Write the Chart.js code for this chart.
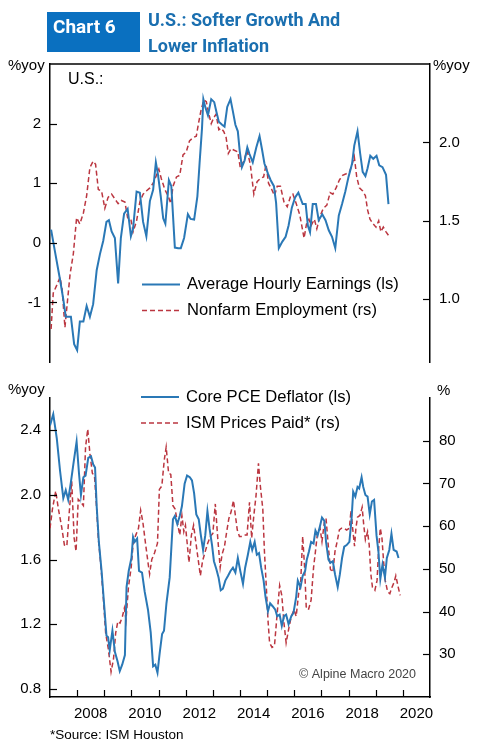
<!DOCTYPE html>
<html>
<head>
<meta charset="utf-8">
<script src="https://cdn.jsdelivr.net/npm/chart.js@4.4.0/dist/chart.umd.min.js"></script>
<style>
body{margin:0;background:#fff;font-family:"Liberation Sans",Arial,sans-serif;}
#wrap{position:relative;width:479px;height:748px;overflow:hidden;}
canvas{position:absolute;left:0;}
#c1{top:0;}
#c2{top:380px;}
#box{position:absolute;left:47px;top:12px;width:93px;height:40px;background:#0a70c0;}
#box span{position:absolute;left:6px;top:5px;color:#fff;font-family:Roboto,sans-serif;font-weight:bold;font-size:19px;line-height:20px;}
#title{position:absolute;left:148px;top:7px;color:#1a6fb0;font-family:Roboto,sans-serif;font-weight:bold;font-size:18px;line-height:26px;}
#source{position:absolute;left:50px;top:727px;font-size:13.5px;line-height:16px;color:#000;}
</style>
</head>
<body>
<div id="wrap">
  <canvas id="c1" width="479" height="380"></canvas>
  <canvas id="c2" width="479" height="368"></canvas>
  <div id="box"><span>Chart 6</span></div>
  <div id="title">U.S.: Softer Growth And<br>Lower Inflation</div>
  <div id="source">*Source: ISM Houston</div>
</div>
<script>
// ---- data (decimal years) ----
var aheYears = [2007.04,2007.18,2007.37,2007.49,2007.58,2007.67,2007.77,2007.89,2008.00,2008.10,2008.23,2008.35,2008.47,2008.59,2008.72,2008.84,2008.96,2009.08,2009.17,2009.27,2009.39,2009.51,2009.61,2009.73,2009.86,2009.98,2010.06,2010.19,2010.31,2010.43,2010.55,2010.68,2010.80,2010.90,2010.98,2011.08,2011.17,2011.25,2011.38,2011.47,2011.60,2011.72,2011.82,2011.94,2012.08,2012.18,2012.31,2012.43,2012.51,2012.60,2012.65,2012.72,2012.82,2012.94,2013.05,2013.13,2013.22,2013.34,2013.43,2013.53,2013.65,2013.74,2013.83,2013.92,2013.99,2014.07,2014.17,2014.27,2014.35,2014.47,2014.60,2014.72,2014.81,2014.90,2015.03,2015.13,2015.25,2015.33,2015.43,2015.56,2015.68,2015.79,2015.91,2016.03,2016.15,2016.31,2016.42,2016.50,2016.58,2016.68,2016.80,2016.90,2017.03,2017.15,2017.27,2017.39,2017.51,2017.64,2017.76,2017.88,2018.00,2018.13,2018.21,2018.33,2018.43,2018.52,2018.62,2018.70,2018.80,2018.91,2019.03,2019.13,2019.25,2019.38,2019.47];
var aheVals = [0.22,-0.14,-0.62,-0.95,-1.24,-1.24,-1.24,-1.70,-1.80,-1.32,-1.32,-1.06,-1.24,-1.03,-0.46,-0.19,0.03,0.35,0.38,0.19,0.08,-0.68,0.08,0.49,0.57,0.11,0.24,0.86,0.84,0.35,0.11,0.70,0.89,1.35,1.14,0.78,0.41,0.32,1.05,0.95,-0.08,-0.09,-0.09,0.08,0.48,0.40,0.39,0.78,1.33,1.92,2.41,2.28,2.14,2.41,2.36,2.20,2.03,1.98,1.95,2.28,2.41,2.20,1.98,1.87,1.54,1.27,1.38,1.60,1.49,1.35,1.60,1.79,1.57,1.33,1.16,1.05,0.95,0.67,-0.09,0.02,0.10,0.29,0.59,0.76,0.84,0.65,0.65,0.29,0.18,0.65,0.65,0.38,0.48,0.38,0.21,0.10,-0.09,0.46,0.65,0.86,1.11,1.33,1.63,1.87,1.49,1.19,1.12,1.25,1.46,1.41,1.46,1.30,1.27,1.14,0.65];

var nfpYears = [2007.04,2007.12,2007.25,2007.37,2007.45,2007.55,2007.65,2007.74,2007.86,2007.98,2008.10,2008.23,2008.35,2008.47,2008.59,2008.68,2008.78,2008.90,2009.02,2009.14,2009.27,2009.39,2009.51,2009.63,2009.76,2009.86,2009.98,2010.06,2010.19,2010.31,2010.43,2010.55,2010.68,2010.80,2010.92,2011.01,2011.10,2011.23,2011.35,2011.45,2011.53,2011.66,2011.78,2011.90,2012.02,2012.14,2012.27,2012.39,2012.48,2012.57,2012.67,2012.76,2012.84,2012.94,2013.04,2013.12,2013.22,2013.31,2013.40,2013.49,2013.57,2013.67,2013.79,2013.92,2014.01,2014.14,2014.26,2014.38,2014.51,2014.63,2014.75,2014.87,2014.96,2015.05,2015.17,2015.27,2015.37,2015.49,2015.62,2015.74,2015.87,2015.95,2016.07,2016.20,2016.36,2016.45,2016.54,2016.62,2016.74,2016.83,2016.95,2017.07,2017.20,2017.32,2017.42,2017.54,2017.66,2017.78,2017.91,2018.03,2018.13,2018.21,2018.30,2018.40,2018.52,2018.62,2018.70,2018.79,2018.91,2019.01,2019.11,2019.19,2019.28,2019.38,2019.50];
var nfpVals = [0.81,1.04,1.09,1.14,1.06,0.82,1.00,1.16,1.29,1.52,1.48,1.55,1.66,1.84,1.88,1.86,1.70,1.69,1.58,1.65,1.67,1.64,1.61,1.63,1.62,1.52,1.51,1.43,1.50,1.62,1.67,1.69,1.71,1.74,1.79,1.83,1.77,1.70,1.66,1.61,1.72,1.78,1.79,1.92,1.94,2.01,2.03,2.04,2.13,2.21,2.27,2.26,2.19,2.12,2.16,2.18,2.08,2.09,2.07,2.03,1.93,1.96,1.95,1.94,1.84,1.88,1.95,1.86,1.67,1.75,1.77,1.78,1.86,1.74,1.70,1.66,1.72,1.72,1.62,1.59,1.66,1.67,1.61,1.54,1.39,1.48,1.51,1.47,1.51,1.45,1.53,1.58,1.60,1.68,1.67,1.71,1.76,1.79,1.80,1.81,1.86,1.91,1.78,1.71,1.69,1.66,1.57,1.51,1.48,1.46,1.50,1.43,1.46,1.43,1.40];

var pceYears = [2007.00,2007.12,2007.25,2007.37,2007.49,2007.58,2007.67,2007.77,2007.86,2007.98,2008.07,2008.14,2008.23,2008.31,2008.41,2008.51,2008.59,2008.66,2008.72,2008.80,2008.90,2009.00,2009.08,2009.14,2009.20,2009.30,2009.39,2009.49,2009.57,2009.66,2009.76,2009.82,2009.90,2010.00,2010.06,2010.12,2010.21,2010.28,2010.39,2010.49,2010.61,2010.71,2010.80,2010.88,2010.96,2011.04,2011.13,2011.20,2011.29,2011.41,2011.53,2011.60,2011.69,2011.78,2011.86,2011.96,2012.05,2012.15,2012.23,2012.31,2012.39,2012.48,2012.55,2012.64,2012.72,2012.80,2012.88,2012.97,2013.04,2013.13,2013.21,2013.29,2013.37,2013.46,2013.56,2013.65,2013.74,2013.83,2013.92,2014.01,2014.11,2014.19,2014.29,2014.38,2014.45,2014.54,2014.62,2014.70,2014.78,2014.87,2014.94,2015.03,2015.11,2015.21,2015.30,2015.37,2015.46,2015.54,2015.62,2015.70,2015.79,2015.89,2015.97,2016.07,2016.13,2016.23,2016.31,2016.40,2016.46,2016.54,2016.62,2016.71,2016.78,2016.86,2016.95,2017.02,2017.11,2017.17,2017.26,2017.33,2017.42,2017.50,2017.60,2017.68,2017.76,2017.84,2017.93,2018.03,2018.11,2018.17,2018.25,2018.33,2018.39,2018.48,2018.54,2018.62,2018.70,2018.78,2018.86,2018.94,2019.03,2019.10,2019.17,2019.25,2019.34,2019.41,2019.50,2019.58,2019.66,2019.77,2019.84];
var pceVals = [2.43,2.50,2.35,2.15,1.98,2.03,1.97,2.08,2.19,2.33,2.13,2.00,2.11,2.12,2.23,2.24,2.19,2.17,1.93,1.71,1.53,1.31,1.13,1.12,1.04,1.16,1.03,0.97,0.91,0.95,1.01,1.43,1.53,1.61,1.74,1.71,1.73,1.53,1.52,1.40,1.29,1.15,0.94,0.95,0.90,1.02,1.14,1.16,1.33,1.49,1.85,1.87,1.82,1.87,1.93,2.07,2.12,2.11,2.09,2.01,1.88,1.85,1.76,1.66,1.75,1.90,1.79,1.69,1.59,1.54,1.49,1.41,1.42,1.47,1.50,1.53,1.55,1.52,1.61,1.53,1.45,1.55,1.63,1.71,1.66,1.71,1.63,1.64,1.55,1.47,1.37,1.28,1.33,1.31,1.29,1.25,1.26,1.19,1.25,1.26,1.20,1.25,1.27,1.37,1.47,1.43,1.50,1.53,1.60,1.65,1.71,1.70,1.78,1.75,1.81,1.86,1.84,1.71,1.60,1.58,1.59,1.51,1.43,1.51,1.61,1.68,1.69,1.71,1.85,2.02,1.99,2.05,2.04,2.11,2.05,2.00,1.99,1.88,1.96,1.97,1.75,1.65,1.48,1.57,1.49,1.61,1.66,1.76,1.66,1.65,1.61];

var ismYears = [2007.00,2007.09,2007.21,2007.31,2007.43,2007.53,2007.62,2007.70,2007.80,2007.89,2007.96,2008.04,2008.14,2008.23,2008.31,2008.39,2008.47,2008.56,2008.64,2008.72,2008.78,2008.88,2008.97,2009.05,2009.15,2009.25,2009.34,2009.42,2009.50,2009.58,2009.67,2009.74,2009.80,2009.89,2009.99,2010.07,2010.16,2010.26,2010.34,2010.42,2010.51,2010.61,2010.67,2010.75,2010.85,2010.96,2011.03,2011.12,2011.21,2011.28,2011.37,2011.45,2011.53,2011.61,2011.69,2011.78,2011.86,2011.93,2011.99,2012.06,2012.12,2012.21,2012.29,2012.37,2012.45,2012.54,2012.62,2012.72,2012.81,2012.91,2013.00,2013.09,2013.18,2013.27,2013.34,2013.43,2013.51,2013.59,2013.67,2013.76,2013.83,2013.90,2013.98,2014.08,2014.19,2014.26,2014.35,2014.43,2014.51,2014.59,2014.68,2014.75,2014.84,2014.90,2014.97,2015.03,2015.09,2015.18,2015.27,2015.37,2015.46,2015.54,2015.62,2015.70,2015.79,2015.89,2015.99,2016.07,2016.16,2016.23,2016.31,2016.38,2016.44,2016.52,2016.62,2016.71,2016.78,2016.86,2016.95,2017.02,2017.11,2017.17,2017.26,2017.33,2017.42,2017.50,2017.58,2017.66,2017.74,2017.84,2017.93,2018.03,2018.09,2018.15,2018.22,2018.27,2018.33,2018.42,2018.50,2018.56,2018.62,2018.70,2018.76,2018.82,2018.88,2018.97,2019.05,2019.11,2019.17,2019.23,2019.29,2019.35,2019.44,2019.52,2019.60,2019.68,2019.74,2019.83,2019.90];
var ismVals = [59.5,64.0,68.2,64.0,59.8,55.6,55.3,62.5,70.5,57.2,54.1,66.3,65.6,64.8,78.5,82.7,77.0,72.4,71.7,64.0,57.2,50.3,42.7,35.0,31.2,25.9,28.9,35.0,37.7,37.3,38.9,40.8,38.1,45.7,50.3,56.4,57.9,59.5,63.7,61.0,56.4,51.5,48.8,52.2,53.7,56.0,68.6,69.4,75.5,78.5,72.4,72.1,64.8,64.0,61.0,57.9,62.5,58.7,60.2,55.6,51.5,57.9,60.2,56.4,52.6,48.4,51.8,54.1,56.0,57.6,58.3,65.2,57.2,50.3,53.4,55.3,58.7,61.8,63.3,66.0,62.5,59.1,57.6,57.6,57.9,57.9,65.6,57.2,62.5,67.1,74.7,69.4,64.0,54.1,45.7,38.1,32.7,31.6,32.0,39.6,46.1,43.8,37.3,32.7,35.8,38.9,40.4,38.9,44.2,46.1,57.6,50.3,41.1,40.4,42.7,50.3,54.1,58.7,59.5,56.4,61.0,61.8,54.9,49.9,49.2,54.1,56.4,59.1,59.5,59.5,59.1,59.5,63.7,59.5,55.3,59.5,62.1,62.5,64.4,60.2,56.8,58.7,55.6,48.8,45.7,45.0,47.3,54.9,59.5,57.2,51.8,47.3,44.6,44.2,45.7,46.9,48.4,45.7,43.8];

// ---- ticks ----
var topLeftTicks = [-1, 0, 1, 2];
var topRightTicks = [1.0, 1.5, 2.0];
var botLeftTicks = [0.8, 1.2, 1.6, 2.0, 2.4];
var botRightTicks = [30, 40, 50, 60, 70, 80];
var yearTicks = [2008,2009,2010,2011,2012,2013,2014,2015,2016,2017,2018,2019,2020];
var yearLabels = [2008,2010,2012,2014,2016,2018,2020];

var BLUE = '#2a78b6';
var RED = '#bb3640';
var FONT = '"Liberation Sans", Arial, sans-serif';

function pts(xs, ys) {
  return xs.map(function (x, i) { return {x: x, y: ys[i]}; });
}

function yAxis(pos, min, max, tickList, fmt) {
  return {
    position: pos, min: min, max: max,
    afterFit: function (s) { s.width = pos === 'left' ? 50 : 49; },
    afterBuildTicks: function (s) { s.ticks = tickList.map(function (v) { return {value: v}; }); },
    grid: {display: false, drawTicks: false},
    border: {display: true, color: '#000', width: 1.5},
    ticks: {padding: 9, color: '#000', font: {family: FONT, size: 15}, callback: fmt}
  };
}

// inward ticks, borders, legends and loose texts
var decor = {
  id: 'decor',
  afterDraw: function (chart, args, o) {
    var ctx = chart.ctx, a = chart.chartArea;
    ctx.save();
    ctx.strokeStyle = '#000';
    ctx.lineWidth = 1.2;
    ['yL', 'yR'].forEach(function (id) {
      var s = chart.scales[id];
      s.ticks.forEach(function (t) {
        var y = Math.round(s.getPixelForValue(t.value)) + 0.5;
        ctx.beginPath();
        if (id === 'yL') { ctx.moveTo(a.left, y); ctx.lineTo(a.left + 7, y); }
        else { ctx.moveTo(a.right, y); ctx.lineTo(a.right - 7, y); }
        ctx.stroke();
      });
    });
    if (o.topBorder) {
      ctx.lineWidth = 1.5;
      ctx.beginPath(); ctx.moveTo(a.left, a.top); ctx.lineTo(a.right, a.top); ctx.stroke();
    }
    if (o.yearTicks) {
      var sx = chart.scales.x;
      o.yearTicks.forEach(function (yr) {
        var x = Math.round(sx.getPixelForValue(yr)) + 0.5;
        ctx.beginPath(); ctx.moveTo(x, a.bottom); ctx.lineTo(x, a.bottom - 7); ctx.stroke();
      });
    }
    // legend
    chart.data.datasets.forEach(function (ds, i) {
      var L = o.legend[i];
      ctx.strokeStyle = ds.borderColor;
      ctx.lineWidth = ds.borderWidth;
      ctx.setLineDash(ds.borderDash || []);
      ctx.beginPath(); ctx.moveTo(L[0], L[2]); ctx.lineTo(L[1], L[2]); ctx.stroke();
      ctx.setLineDash([]);
      ctx.fillStyle = '#000';
      ctx.font = '16.6px ' + FONT;
      ctx.textBaseline = 'middle';
      ctx.textAlign = 'left';
      ctx.fillText(ds.label, L[1] + 7, L[2]);
    });
    // texts
    o.texts.forEach(function (t) {
      ctx.fillStyle = t.color || '#000';
      ctx.font = t.size + 'px ' + FONT;
      ctx.textBaseline = 'alphabetic';
      ctx.textAlign = t.align || 'left';
      ctx.fillText(t.text, t.x, t.y);
    });
    ctx.restore();
  }
};

new Chart(document.getElementById('c1'), {
  type: 'line',
  data: {
    datasets: [
      {label: 'Average Hourly Earnings (ls)', data: pts(aheYears, aheVals), yAxisID: 'yL',
       borderColor: BLUE, borderWidth: 2, pointRadius: 0, tension: 0},
      {label: 'Nonfarm Employment (rs)', data: pts(nfpYears, nfpVals), yAxisID: 'yR',
       borderColor: RED, borderWidth: 1.5, borderDash: [5, 3], pointRadius: 0, tension: 0}
    ]
  },
  options: {
    responsive: false, animation: false,
    layout: {padding: {top: 64, bottom: 10, left: 0, right: 0}},
    plugins: {
      legend: {display: false}, tooltip: {enabled: false},
      decor: {
        topBorder: true,
        legend: [[142, 180, 284.5], [142, 180, 310.5]],
        texts: [
          {text: '%yoy', x: 8, y: 70, size: 15},
          {text: '%yoy', x: 433, y: 70, size: 15},
          {text: 'U.S.:', x: 68, y: 84, size: 16}
        ]
      }
    },
    scales: {
      x: {type: 'linear', min: 2007, max: 2021, display: false},
      yL: yAxis('left', -2, 3, topLeftTicks, function (v) { return v; }),
      yR: yAxis('right', 0.6, 2.5, topRightTicks, function (v) { return v.toFixed(1); })
    }
  },
  plugins: [decor]
});

new Chart(document.getElementById('c2'), {
  type: 'line',
  data: {
    datasets: [
      {label: 'Core PCE Deflator (ls)', data: pts(pceYears, pceVals), yAxisID: 'yL',
       borderColor: BLUE, borderWidth: 2, pointRadius: 0, tension: 0},
      {label: 'ISM Prices Paid* (rs)', data: pts(ismYears, ismVals), yAxisID: 'yR',
       borderColor: RED, borderWidth: 1.5, borderDash: [5, 3], pointRadius: 0, tension: 0}
    ]
  },
  options: {
    responsive: false, animation: false,
    layout: {padding: {top: 10, bottom: 0, left: 0, right: 0}},
    plugins: {
      legend: {display: false}, tooltip: {enabled: false},
      decor: {
        yearTicks: yearTicks,
        legend: [[141, 179, 17], [141, 179, 43]],
        texts: [
          {text: '%yoy', x: 8, y: 14, size: 15},
          {text: '%', x: 437, y: 15, size: 15},
          {text: '\u00a9 Alpine Macro 2020', x: 416, y: 298, size: 12.5, align: 'right', color: '#444'}
        ]
      }
    },
    scales: {
      x: {
        type: 'linear', min: 2007, max: 2021,
        afterFit: function (s) { s.height = 51; },
        afterBuildTicks: function (s) { s.ticks = yearLabels.map(function (y) { return {value: y + 0.5}; }); },
        grid: {display: false, drawTicks: false},
        border: {display: true, color: '#000', width: 1.5},
        ticks: {padding: 8, color: '#000', maxRotation: 0, autoSkip: false, font: {family: FONT, size: 15},
                callback: function (v) { return String(Math.floor(v)); }}
      },
      yL: yAxis('left', 0.75, 2.6, botLeftTicks, function (v) { return v.toFixed(1); }),
      yR: yAxis('right', 20, 90, botRightTicks, function (v) { return v; })
    }
  },
  plugins: [decor]
});
</script>
</body>
</html>
